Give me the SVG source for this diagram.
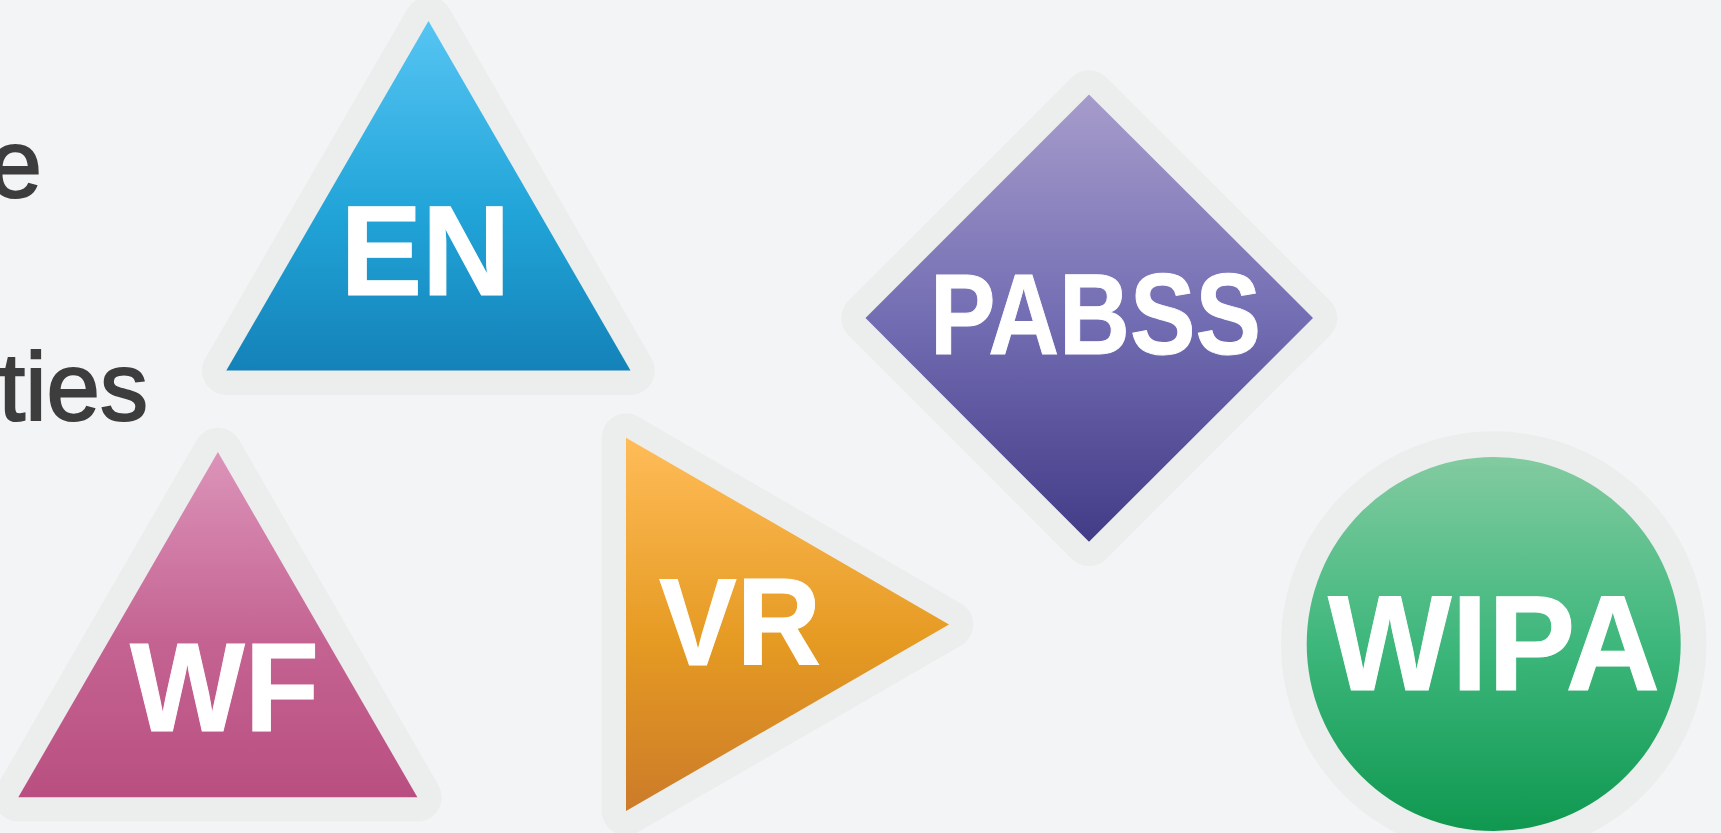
<svg xmlns="http://www.w3.org/2000/svg" width="1721" height="833" viewBox="0 0 1721 833">
<style>
.halo{stroke:#eceeed;stroke-linejoin:round;stroke-width:48.6}
.lbl{font-family:"Liberation Sans",Arial,sans-serif;font-weight:700;fill:#fff;stroke:#fff;stroke-width:1;text-anchor:middle}
.side{font-family:"Liberation Sans",Arial,sans-serif;font-size:96px;fill:#3d3d3d;stroke:#3d3d3d;stroke-width:2;text-anchor:end}
</style>
<defs>
<linearGradient id="gEN" x1="0" y1="0" x2="0" y2="1"><stop offset="0" stop-color="#56c5f3"/><stop offset=".55" stop-color="#21a4d8"/><stop offset="1" stop-color="#1482b8"/></linearGradient>
<linearGradient id="gWF" x1="0" y1="0" x2="0" y2="1"><stop offset="0" stop-color="#dc94b9"/><stop offset=".55" stop-color="#c46392"/><stop offset="1" stop-color="#b94f81"/></linearGradient>
<linearGradient id="gVR" x1="0" y1="0" x2="0" y2="1"><stop offset="0" stop-color="#ffbc58"/><stop offset=".55" stop-color="#e59a22"/><stop offset="1" stop-color="#cc7b29"/></linearGradient>
<linearGradient id="gPA" x1="0" y1="0" x2="0" y2="1"><stop offset="0" stop-color="#a69ccb"/><stop offset=".5" stop-color="#736db3"/><stop offset="1" stop-color="#423b86"/></linearGradient>
<linearGradient id="gWI" x1="0" y1="0" x2="0" y2="1"><stop offset="0" stop-color="#82cba0"/><stop offset=".5" stop-color="#3eb77c"/><stop offset="1" stop-color="#0f9850"/></linearGradient>
</defs>
<rect width="1721" height="833" fill="#f2f4f6"/>
<g id="connectors"/>
<g id="side-text">
<text class="side" x="42" y="196.5">e</text>
<text class="side" x="148" y="419.5">ties</text>
</g>
<g id="node-EN">
<polygon class="halo" fill="#eceeed" points="428.5,21 226.3,370.6 630.5,370.6"/>
<polygon fill="url(#gEN)" points="428.5,21 226.3,370.6 630.5,370.6"/>
<text class="lbl" x="425.5" y="294.5" font-size="128" textLength="170" lengthAdjust="spacingAndGlyphs">EN</text>
</g>
<g id="node-WF">
<polygon class="halo" fill="#eceeed" points="217.9,452 18.3,797.3 417.4,797.3"/>
<polygon fill="url(#gWF)" points="217.9,452 18.3,797.3 417.4,797.3"/>
<text class="lbl" x="224.5" y="731.2" font-size="126" textLength="189" lengthAdjust="spacingAndGlyphs">WF</text>
</g>
<g id="node-VR">
<polygon class="halo" fill="#eceeed" points="626,437.7 626,811 949,624.5"/>
<polygon fill="url(#gVR)" points="626,437.7 626,811 949,624.5"/>
<text class="lbl" x="740" y="664.5" font-size="125" textLength="162" lengthAdjust="spacingAndGlyphs">VR</text>
</g>
<g id="node-PABSS">
<polygon class="halo" fill="#eceeed" points="1089,94.5 1313,318 1089,541.7 865.5,318"/>
<polygon fill="url(#gPA)" points="1089,94.5 1313,318 1089,541.7 865.5,318"/>
<text class="lbl" x="1095.5" y="354.3" font-size="115" textLength="331" lengthAdjust="spacingAndGlyphs">PABSS</text>
</g>
<g id="node-WIPA">
<circle cx="1493.7" cy="644" r="212.7" fill="#eceeed"/>
<circle cx="1493.7" cy="644" r="187" fill="url(#gWI)"/>
<text class="lbl" x="1494" y="689.5" font-size="135" textLength="332" lengthAdjust="spacingAndGlyphs">WIPA</text>
</g>
</svg>
